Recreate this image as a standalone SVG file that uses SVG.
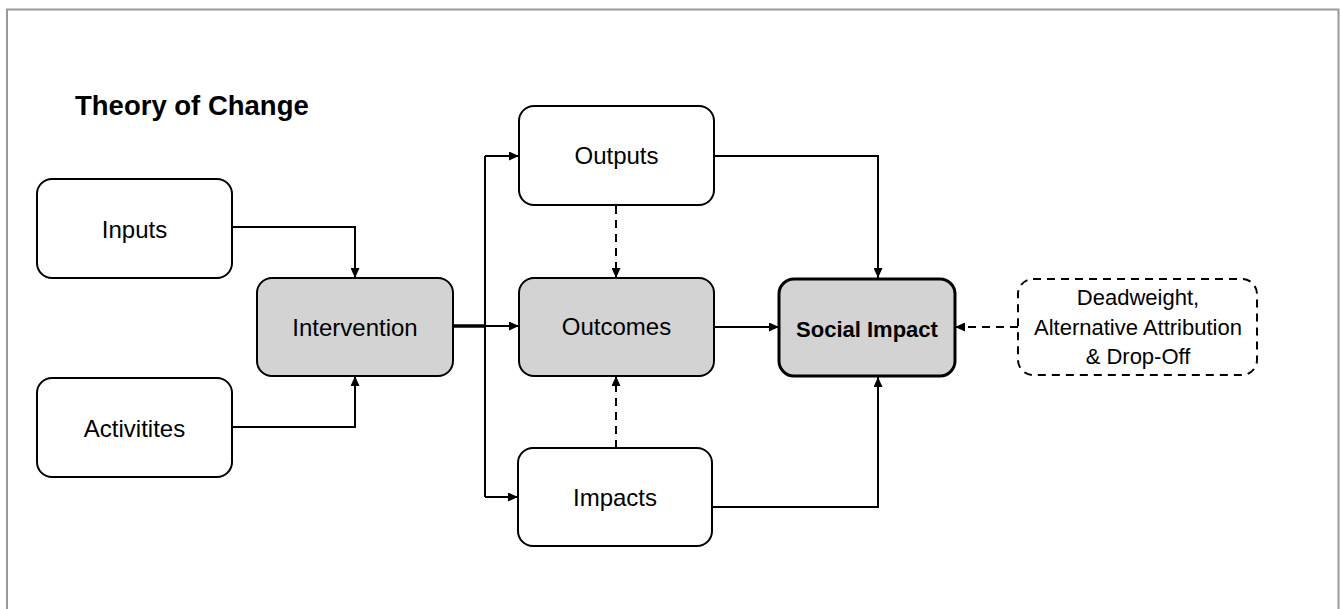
<svg xmlns="http://www.w3.org/2000/svg" width="1341" height="609" viewBox="0 0 1341 609">
<style>
.box{fill:#ffffff;stroke:#000;stroke-width:2}
.grey{fill:#d3d3d3;stroke:#000;stroke-width:2}
.lbl{font-family:"Liberation Sans",Arial,sans-serif;font-size:24px;fill:#000;text-anchor:middle}
.small{font-family:"Liberation Sans",Arial,sans-serif;font-size:22px;fill:#000;text-anchor:middle}
.conn{fill:none;stroke:#000;stroke-width:2}
.dash{stroke-dasharray:8,6}
</style>
<defs>
<marker id="arr" markerUnits="userSpaceOnUse" markerWidth="10" markerHeight="9" refX="10" refY="4.5" orient="auto">
<path d="M0,0 L10,4.5 L0,9 z" fill="#000"/>
</marker>
</defs>
<rect x="7" y="9.5" width="1331.5" height="620" fill="#fff" stroke="#999" stroke-width="2"/>
<text x="75" y="115" font-family="'Liberation Sans',Arial,sans-serif" font-size="27.5" font-weight="bold" fill="#000">Theory of Change</text>

<g id="connectors">
<path class="conn" d="M232,227 H355 V278" marker-end="url(#arr)"/>
<path class="conn" d="M232,427 H355 V376" marker-end="url(#arr)"/>
<path d="M453,326 H485" stroke="#000" stroke-width="3.5" fill="none"/>
<path class="conn" d="M485,326 H519" marker-end="url(#arr)"/>
<path class="conn" d="M485,156 V497"/>
<path class="conn" d="M485,156 H519" marker-end="url(#arr)"/>
<path class="conn" d="M485,497 H518" marker-end="url(#arr)"/>
<path class="conn dash" d="M616,206 V278" marker-end="url(#arr)"/>
<path class="conn dash" d="M616,448 V376" marker-end="url(#arr)"/>
<path class="conn" d="M714,156 H878 V278" marker-end="url(#arr)"/>
<path class="conn" d="M714,327 H779" marker-end="url(#arr)"/>
<path class="conn" d="M713,507 H878 V377" marker-end="url(#arr)"/>
<path class="conn dash" d="M1018,327 H955" marker-end="url(#arr)"/>
</g>

<g id="inputs">
<rect class="box" x="37" y="179" width="195" height="99" rx="15"/>
<text class="lbl" x="134.5" y="238">Inputs</text>
</g>
<g id="activities">
<rect class="box" x="37" y="378" width="195" height="99" rx="15"/>
<text class="lbl" x="134.5" y="436.5">Activitites</text>
</g>
<g id="intervention">
<rect class="grey" x="257" y="278" width="196" height="98" rx="15"/>
<text class="lbl" x="355" y="336">Intervention</text>
</g>
<g id="outputs">
<rect class="box" x="519" y="106" width="195" height="99" rx="15"/>
<text class="lbl" x="616.5" y="164">Outputs</text>
</g>
<g id="outcomes">
<rect class="grey" x="519" y="278" width="195" height="98" rx="15"/>
<text class="lbl" x="616.5" y="335">Outcomes</text>
</g>
<g id="impacts">
<rect class="box" x="518" y="448" width="194" height="98" rx="15"/>
<text class="lbl" x="615" y="506">Impacts</text>
</g>
<g id="social-impact">
<rect x="779" y="279" width="176" height="97" rx="15" fill="#d3d3d3" stroke="#000" stroke-width="3"/>
<text class="small" x="867" y="336.5" font-weight="bold">Social Impact</text>
</g>
<g id="deadweight">
<rect class="box dash" x="1018" y="279" width="239" height="96" rx="15"/>
<text class="small" x="1138" y="305">Deadweight,</text>
<text class="small" x="1138" y="334.5">Alternative Attribution</text>
<text class="small" x="1138" y="363.5">&amp; Drop-Off</text>
</g>
</svg>
